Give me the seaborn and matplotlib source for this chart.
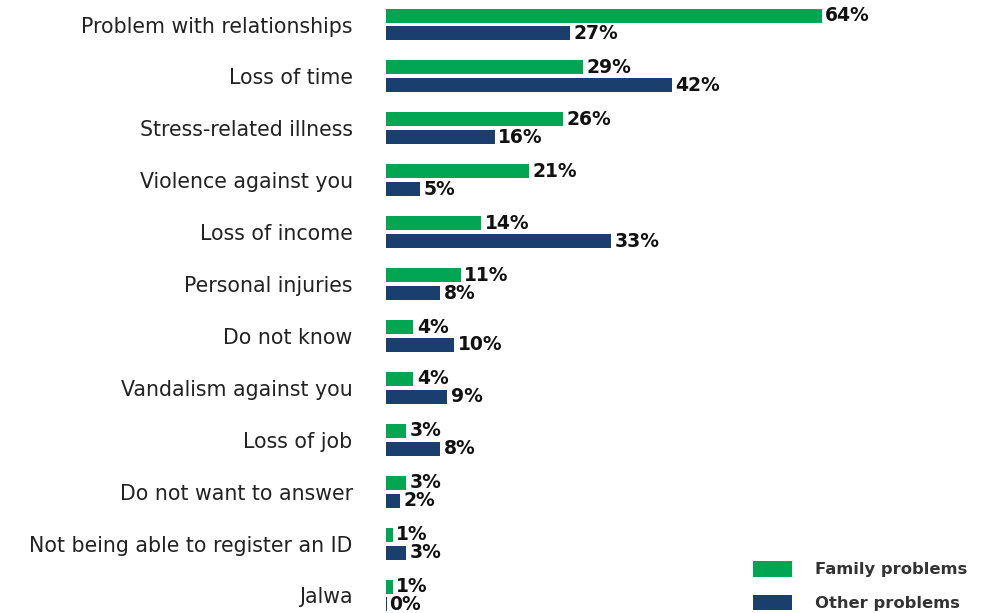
import matplotlib
matplotlib.use("Agg")
import matplotlib.pyplot as plt
import seaborn as sns
import pandas as pd

categories = ["Problem with relationships", "Loss of time", "Stress-related illness",
              "Violence against you", "Loss of income", "Personal injuries", "Do not know",
              "Vandalism against you", "Loss of job", "Do not want to answer",
              "Not being able to register an ID", "Jalwa"]
family = [64, 29, 26, 21, 14, 11, 4, 4, 3, 3, 1, 1]
other = [27, 42, 16, 5, 33, 8, 10, 9, 8, 2, 3, 0]
series = ["Family problems", "Other problems"]
colors = ["#00A651", "#1A3F6F"]

df = pd.DataFrame({
    "category": categories * 2,
    "value": family + other,
    "series": [series[0]] * len(categories) + [series[1]] * len(categories),
})

sns.set_theme(style="white")
plt.rcParams["font.family"] = ["DejaVu Sans"]

W, H = 991, 613
fig = plt.figure(figsize=(W / 100, H / 100), dpi=100)
left_px, right_px = 386, 960
ax = fig.add_axes([left_px / W, 0, (right_px - left_px) / W, 1])

sns.barplot(data=df, x="value", y="category", hue="series", order=categories,
            hue_order=series, palette=colors, orient="h", width=0.69, gap=0.22,
            ax=ax, legend=True, saturation=1, linewidth=0)

px_per_unit = 6.81
ax.set_xlim(0, (right_px - left_px) / px_per_unit)
unit = 51.9
ax.set_ylim(11 + 17.5 / unit, -24.5 / unit)

for cont, vals in zip(ax.containers, [family, other]):
    ax.bar_label(cont, labels=[f"{v}%" for v in vals], padding=2.5,
                 fontsize=13.5, fontweight="bold", color="#111111")
    for patch, v in zip(cont.patches, vals):
        if v == 0:
            patch.set_linewidth(1.5)
            patch.set_edgecolor(patch.get_facecolor())

for s in ax.spines.values():
    s.set_visible(False)
ax.set_xticks([])
ax.set_xlabel("")
ax.set_ylabel("")
ax.tick_params(axis="y", length=0, pad=24, labelsize=14.8, labelcolor="#222222")

leg = ax.legend(loc="upper left", bbox_to_anchor=(753 / W, 1 - 561 / H), bbox_transform=fig.transFigure,
                frameon=False, handlelength=2.35, handleheight=1.08, handletextpad=1.45,
                labelspacing=1.07, prop={"weight": "bold", "size": 11.8}, borderpad=0, borderaxespad=0)
for t in leg.get_texts():
    t.set_color("#333333")

fig.savefig("out.png", dpi=100)
